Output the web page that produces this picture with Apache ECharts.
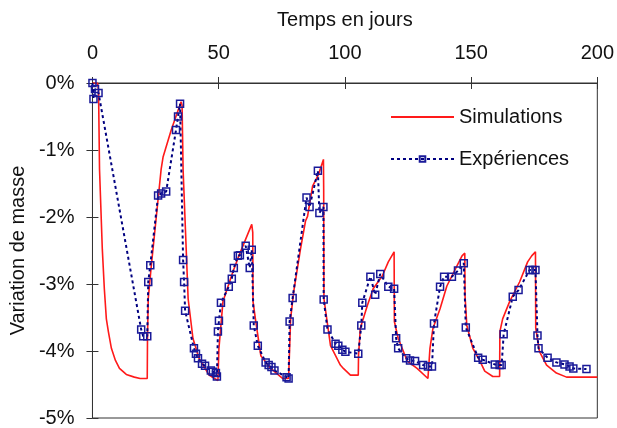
<!DOCTYPE html>
<html>
<head>
<meta charset="utf-8">
<script src="https://cdn.jsdelivr.net/npm/echarts@6/dist/echarts.min.js"></script>
<style>html,body{margin:0;padding:0;background:#fff;}#c{width:617px;height:428px;}</style>
</head>
<body>
<div id="c"></div>
<script>
var xTicks = [0, 50, 100, 150, 200];
var yTicks = [0, -1, -2, -3, -4, -5];

var simDays = [0,2.0,2.4,2.8,3.9,4.7,5.5,6.3,7.5,9.1,10.7,13.4,16.6,18.9,21.7,21.8,22.1,23.3,25.2,27.2,28.0,31.2,35.1,35.5,35.9,37.9,39.8,42.2,46.2,49.7,50.1,51.7,55.6,58.0,60.7,63.1,63.5,63.6,64.7,66.7,70.6,75.3,77.7,78.5,79.7,82.4,84.4,85.2,87.2,89.5,91.5,91.6,91.7,94.3,98.2,99.4,102.2,105.3,105.4,106.1,108.9,111.2,114.8,117.2,119.5,119.6,121.1,124.7,128.6,132.9,133.7,134.9,137.7,140.4,144.4,146.4,147.5,147.6,148.3,150.7,153.5,155.4,158.6,161.3,161.4,162.5,165.3,169.2,172.4,174.0,175.5,175.6,177.1,179.9,183.8,187.8,200];
var simMasse = [0,0,-0.10,-1.29,-2.48,-3.07,-3.52,-3.71,-3.96,-4.14,-4.26,-4.35,-4.39,-4.41,-4.41,-3.81,-3.22,-2.73,-2.03,-1.29,-1.10,-0.70,-0.28,-0.33,-1.29,-3.22,-3.81,-4.11,-4.36,-4.44,-3.96,-3.26,-2.82,-2.58,-2.33,-2.11,-2.23,-3.26,-3.56,-4.07,-4.26,-4.41,-4.41,-3.52,-3.12,-2.48,-2.06,-1.99,-1.54,-1.37,-1.14,-1.59,-3.22,-3.92,-4.21,-4.26,-4.36,-4.36,-4.07,-3.66,-3.32,-3.07,-2.88,-2.67,-2.52,-3.56,-3.81,-4.15,-4.26,-4.41,-3.96,-3.66,-3.37,-3.03,-2.73,-2.58,-2.54,-3.18,-3.62,-3.96,-4.15,-4.30,-4.38,-4.38,-3.71,-3.52,-3.26,-2.97,-2.67,-2.58,-2.52,-3.66,-4.01,-4.21,-4.33,-4.39,-4.39];

var expDays = [0,0.4,1.0,2.4,19.3,20.1,21.7,22.1,22.9,26.0,27.2,29.2,33.1,33.9,34.7,35.9,36.3,36.7,40.2,41.0,41.8,43.4,44.6,46.9,47.7,48.9,49.3,49.7,50.1,50.9,54.0,55.2,56.0,57.6,58.4,60.7,62.3,63.1,63.9,65.5,68.6,69.8,70.9,72.1,76.9,77.7,78.1,79.3,84.8,86.0,89.3,89.9,91.5,91.6,93.1,96.3,97.4,99.0,100.2,105.3,106.5,106.9,110.1,112.0,114.0,117.2,119.5,120.3,121.1,124.3,125.8,127.8,131.0,132.9,134.5,135.3,137.7,139.3,142.4,144.8,147.1,147.9,152.8,154.6,159.4,161.3,162.1,162.9,166.5,168.8,173.2,174.4,175.5,176.3,176.7,180.3,183.8,187.0,189.0,190.5,195.7];
var expMasse = [0,-0.24,-0.09,-0.15,-3.68,-3.78,-3.78,-2.97,-2.72,-1.68,-1.65,-1.62,-0.70,-0.50,-0.31,-2.64,-2.97,-3.40,-3.96,-4.04,-4.11,-4.19,-4.22,-4.29,-4.31,-4.33,-4.38,-3.71,-3.55,-3.28,-3.04,-2.92,-2.76,-2.58,-2.57,-2.43,-2.76,-2.49,-3.62,-3.92,-4.17,-4.21,-4.24,-4.29,-4.39,-4.41,-3.56,-3.21,-1.71,-1.85,-1.31,-1.94,-1.85,-3.23,-3.68,-3.89,-3.92,-3.98,-4.01,-4.04,-3.62,-3.28,-2.89,-3.16,-2.85,-3.04,-3.07,-3.81,-3.96,-4.11,-4.14,-4.15,-4.21,-4.23,-4.23,-3.59,-3.04,-2.89,-2.89,-2.80,-2.69,-3.65,-4.10,-4.13,-4.20,-4.21,-4.21,-3.75,-3.19,-3.09,-2.79,-2.79,-2.79,-3.77,-3.96,-4.10,-4.17,-4.20,-4.23,-4.26,-4.27];

function zip(a, b) { return a.map(function (v, i) { return [v, b[i]]; }); }

var FONT = 'Liberation Sans';
var FS = 20;
var chart = echarts.init(document.getElementById('c'), null, {renderer: 'canvas'});
var axisCol = '#333';
chart.setOption({
  animation: false,
  textStyle: {fontFamily: FONT},
  grid: {left: 91, right: 18, top: 83, bottom: 8, show: true, borderColor: axisCol, borderWidth: 1, backgroundColor: 'transparent'},
  legend: {
    orient: 'vertical', left: 390, top: 107, padding: 0, itemWidth: 63, itemHeight: 7, itemGap: 22,
    textStyle: {fontFamily: FONT, fontSize: FS, color: '#111', lineHeight: 20},
    data: [
      {name: 'Simulations', itemStyle: {opacity: 0}},
      {name: 'Expériences'}
    ]
  },
  xAxis: [{
    type: 'value', position: 'top', min: 0, max: 200, interval: 50,
    name: 'Temps en jours', nameLocation: 'middle', nameGap: 53,
    nameTextStyle: {fontSize: FS, color: '#111', fontFamily: FONT},
    axisLine: {show: true, lineStyle: {color: axisCol, width: 1}},
    axisTick: {show: true, length: 6, lineStyle: {color: axisCol}},
    axisLabel: {fontSize: FS, color: '#111', margin: 20, fontFamily: FONT},
    splitLine: {show: false}
  }, {
    type: 'value', position: 'top', min: 0, max: 200, interval: 50,
    axisLine: {show: false}, axisTick: {show: true, inside: true, length: 6, lineStyle: {color: axisCol}},
    axisLabel: {show: false}, splitLine: {show: false}
  }],
  yAxis: [{
    type: 'value', min: -5, max: 0, interval: 1,
    name: 'Variation de masse', nameLocation: 'middle', nameGap: 60, nameRotate: 90,
    nameTextStyle: {fontSize: FS, color: '#111', fontFamily: FONT},
    axisLine: {show: true, lineStyle: {color: axisCol, width: 1}},
    axisTick: {show: true, length: 6, lineStyle: {color: axisCol}},
    axisLabel: {fontSize: FS, color: '#111', margin: 18, fontFamily: FONT, formatter: function (v) { return v + '%'; }},
    splitLine: {show: false}
  }, {
    type: 'value', min: -5, max: 0, interval: 1, position: 'left',
    axisLine: {show: false}, axisTick: {show: true, inside: true, length: 6, lineStyle: {color: axisCol}},
    axisLabel: {show: false}, splitLine: {show: false}
  }],
  series: [{
    name: 'Simulations', type: 'line', data: zip(simDays, simMasse),
    showSymbol: false, symbol: 'none',
    lineStyle: {color: '#ff1a1a', width: 1.6}, itemStyle: {color: '#ff1a1a'}
  }, {
    name: 'Expériences', type: 'line', data: zip(expDays, expMasse),
    symbol: 'rect', symbolSize: 7, showSymbol: true,
    lineStyle: {color: '#000080', width: 2, type: [3, 3]},
    itemStyle: {color: 'rgba(255,255,255,0)', borderColor: '#1a1a99', borderWidth: 1.5}
  }]
});
</script>
</body>
</html>
